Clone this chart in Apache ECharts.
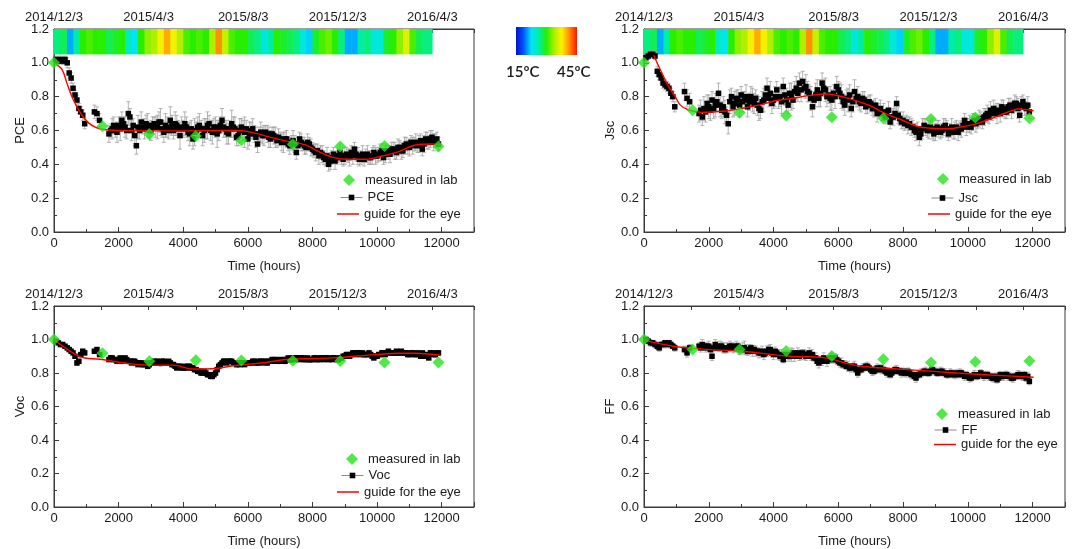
<!DOCTYPE html>
<html>
<head>
<meta charset="utf-8">
<title>Outdoor stability of PCE, Jsc, Voc and FF</title>
<script src="https://cdn.jsdelivr.net/npm/echarts@6/dist/echarts.min.js"></script>
<style>
  html, body { margin: 0; padding: 0; background: #ffffff; }
  #chart { width: 1072px; height: 549px; }
</style>
</head>
<body>
<div id="chart"></div>
<script>
// ---- measurement times (hours since 2014/12/3) ----
const hours = [
  60, 130, 200, 270, 340, 410, 470, 530, 590, 650, 710, 770, 830, 890, 950,
  1250, 1330, 1410,
  1700, 1750, 1800, 1850, 1900, 1950, 2000, 2050, 2100, 2150,
  2200, 2250, 2300, 2350, 2400, 2450, 2500, 2550, 2600, 2650,
  2700, 2750, 2800, 2850, 2900, 2950, 3000, 3050, 3100, 3150,
  3200, 3250, 3300, 3350, 3400, 3450, 3500, 3550, 3600, 3650,
  3700, 3750, 3800, 3850, 3900, 3950, 4000, 4050, 4100, 4150,
  4200, 4250, 4300, 4350, 4400, 4450, 4500, 4550, 4600, 4650,
  4700, 4750, 4800, 4850, 4900, 4950, 5000, 5050, 5100, 5150,
  5200, 5250, 5300, 5350, 5400, 5450, 5500, 5550, 5600, 5650,
  5700, 5750, 5800, 5850, 5900, 5950, 6000, 6050, 6100, 6150,
  6200, 6250, 6300, 6350, 6400, 6450, 6500, 6550, 6600, 6650,
  6700, 6750, 6800, 6850, 6900, 6950, 7000, 7050, 7100, 7150,
  7200, 7250, 7300, 7350, 7400, 7450, 7500, 7550, 7600, 7650,
  7700, 7750, 7800, 7850, 7900, 7950, 8000, 8050, 8100, 8150,
  8200, 8250, 8300, 8350, 8400, 8450, 8500, 8550, 8600, 8650,
  8700, 8750, 8800, 8850, 8900, 8950, 9000, 9050, 9100, 9150,
  9200, 9250, 9300, 9350, 9400, 9450, 9500, 9550, 9600, 9650,
  9700, 9750, 9800, 9850, 9900, 9950, 10000, 10050, 10100, 10150,
  10200, 10250, 10300, 10350, 10400, 10450, 10500, 10550, 10600, 10650,
  10700, 10750, 10800, 10850, 10900, 10950, 11000, 11050, 11100, 11150,
  11200, 11250, 11300, 11350, 11400, 11450, 11500, 11550, 11600, 11650,
  11700, 11750, 11800, 11850, 11900
];

// ---- normalised outdoor values ----
const pce = [
  1.02, 1.01, 1.02, 1.01, 1.02, 1.00, 0.94, 0.91, 0.85, 0.81, 0.78, 0.73, 0.71, 0.69, 0.64,
  0.71, 0.70, 0.66,
  0.58, 0.60, 0.61, 0.63, 0.60, 0.59, 0.63, 0.61, 0.66, 0.64,
  0.62, 0.60, 0.70, 0.68, 0.60, 0.63, 0.57, 0.51, 0.62, 0.60,
  0.65, 0.62, 0.61, 0.64, 0.63, 0.60, 0.60, 0.63, 0.64, 0.62,
  0.62, 0.65, 0.65, 0.61, 0.59, 0.63, 0.62, 0.60, 0.66, 0.63,
  0.60, 0.64, 0.63, 0.61, 0.57, 0.62, 0.61, 0.64, 0.62, 0.59,
  0.58, 0.61, 0.55, 0.59, 0.60, 0.62, 0.63, 0.61, 0.57, 0.60,
  0.61, 0.63, 0.64, 0.60, 0.59, 0.62, 0.62, 0.58, 0.60, 0.63,
  0.66, 0.62, 0.61, 0.59, 0.58, 0.61, 0.64, 0.62, 0.61, 0.56,
  0.57, 0.60, 0.62, 0.60, 0.59, 0.61, 0.55, 0.58, 0.60, 0.61,
  0.58, 0.56, 0.52, 0.58, 0.59, 0.57, 0.57, 0.59, 0.58, 0.56,
  0.55, 0.58, 0.57, 0.56, 0.54, 0.56, 0.55, 0.53, 0.53, 0.55,
  0.55, 0.52, 0.51, 0.53, 0.54, 0.52, 0.47, 0.51, 0.55, 0.53,
  0.52, 0.51, 0.50, 0.53, 0.52, 0.50, 0.49, 0.48, 0.47, 0.48,
  0.45, 0.47, 0.46, 0.44, 0.43, 0.45, 0.40, 0.42, 0.44, 0.46,
  0.42, 0.44, 0.45, 0.47, 0.44, 0.43, 0.45, 0.46, 0.45, 0.44,
  0.47, 0.45, 0.49, 0.46, 0.45, 0.43, 0.44, 0.46, 0.43, 0.45,
  0.46, 0.44, 0.44, 0.45, 0.47, 0.45, 0.45, 0.46, 0.47, 0.48,
  0.44, 0.46, 0.48, 0.47, 0.46, 0.49, 0.49, 0.48, 0.47, 0.50,
  0.50, 0.48, 0.48, 0.51, 0.52, 0.50, 0.50, 0.53, 0.51, 0.52,
  0.53, 0.51, 0.52, 0.54, 0.49, 0.52, 0.55, 0.54, 0.53, 0.55,
  0.56, 0.53, 0.54, 0.55, 0.52
];
const pceErr = [
  0.02, 0.02, 0.02, 0.02, 0.02, 0.03, 0.03, 0.03, 0.03, 0.03, 0.03, 0.03, 0.03, 0.03, 0.03,
  0.04, 0.04, 0.04,
  0.05, 0.04, 0.06, 0.05, 0.04, 0.06, 0.05, 0.07, 0.05, 0.04,
  0.06, 0.05, 0.07, 0.05, 0.06, 0.04, 0.06, 0.05, 0.07, 0.05,
  0.06, 0.04, 0.06, 0.05, 0.07, 0.05, 0.06, 0.05, 0.04, 0.06,
  0.07, 0.06, 0.08, 0.05, 0.06, 0.07, 0.06, 0.05, 0.08, 0.06,
  0.05, 0.07, 0.06, 0.05, 0.08, 0.06, 0.05, 0.07, 0.06, 0.05,
  0.07, 0.05, 0.06, 0.08, 0.05, 0.06, 0.07, 0.05, 0.06, 0.07,
  0.06, 0.08, 0.05, 0.06, 0.07, 0.05, 0.06, 0.08, 0.06, 0.05,
  0.07, 0.06, 0.05, 0.07, 0.06, 0.05, 0.08, 0.06, 0.07, 0.05,
  0.06, 0.07, 0.05, 0.06, 0.09, 0.05, 0.06, 0.07, 0.05, 0.06,
  0.05, 0.06, 0.05, 0.04, 0.06, 0.05, 0.06, 0.04, 0.05, 0.06,
  0.05, 0.04, 0.05, 0.06, 0.04, 0.05, 0.04, 0.05, 0.06, 0.04,
  0.05, 0.04, 0.05, 0.04, 0.06, 0.05, 0.04, 0.05, 0.04, 0.05,
  0.04, 0.05, 0.04, 0.05, 0.04, 0.05, 0.04, 0.04, 0.05, 0.04,
  0.05, 0.04, 0.05, 0.04, 0.04, 0.05, 0.04, 0.05, 0.04, 0.04,
  0.05, 0.04, 0.04, 0.05, 0.04, 0.04, 0.05, 0.04, 0.04, 0.05,
  0.04, 0.05, 0.04, 0.04, 0.05, 0.04, 0.04, 0.05, 0.04, 0.04,
  0.05, 0.04, 0.04, 0.05, 0.04, 0.05, 0.04, 0.04, 0.05, 0.04,
  0.04, 0.05, 0.04, 0.04, 0.05, 0.04, 0.04, 0.05, 0.04, 0.05,
  0.04, 0.05, 0.04, 0.05, 0.04, 0.04, 0.05, 0.04, 0.05, 0.04,
  0.05, 0.04, 0.05, 0.04, 0.04, 0.05, 0.04, 0.05, 0.04, 0.05,
  0.04, 0.05, 0.04, 0.04, 0.04
];

const jsc = [
  1.03, 1.04, 1.05, 1.05, 1.04, 0.95, 0.93, 0.91, 0.88, 0.87, 0.86, 0.85, 0.82, 0.80, 0.74,
  0.83, 0.79, 0.77,
  0.70, 0.72, 0.68, 0.73, 0.71, 0.76, 0.74, 0.72, 0.78, 0.73,
  0.75, 0.77, 0.82, 0.75, 0.72, 0.74, 0.71, 0.69, 0.64, 0.77,
  0.80, 0.74, 0.76, 0.79, 0.78, 0.75, 0.81, 0.77, 0.78, 0.80,
  0.74, 0.77, 0.80, 0.78, 0.76, 0.79, 0.75, 0.73, 0.72, 0.77,
  0.78, 0.81, 0.85, 0.79, 0.82, 0.76, 0.78, 0.80, 0.84, 0.79,
  0.80, 0.77, 0.86, 0.81, 0.78, 0.75, 0.82, 0.80, 0.78, 0.83,
  0.85, 0.82, 0.88, 0.84, 0.89, 0.85, 0.86, 0.83, 0.82, 0.79,
  0.74, 0.78, 0.81, 0.84, 0.79, 0.82, 0.88, 0.85, 0.84, 0.80,
  0.81, 0.79, 0.78, 0.82, 0.80, 0.86, 0.84, 0.82, 0.80, 0.77,
  0.75, 0.79, 0.78, 0.81, 0.73, 0.77, 0.83, 0.79, 0.80, 0.77,
  0.76, 0.79, 0.78, 0.74, 0.75, 0.77, 0.76, 0.73, 0.73, 0.75,
  0.70, 0.72, 0.73, 0.70, 0.71, 0.68, 0.69, 0.72, 0.65, 0.68,
  0.68, 0.70, 0.76, 0.69, 0.67, 0.65, 0.66, 0.64, 0.65, 0.63,
  0.64, 0.62, 0.62, 0.60, 0.59, 0.61, 0.56, 0.58, 0.61, 0.63,
  0.62, 0.60, 0.60, 0.62, 0.61, 0.58, 0.59, 0.62, 0.61, 0.59,
  0.60, 0.62, 0.63, 0.61, 0.58, 0.60, 0.62, 0.59, 0.60, 0.62,
  0.59, 0.61, 0.61, 0.63, 0.66, 0.62, 0.63, 0.64, 0.62, 0.65,
  0.66, 0.64, 0.65, 0.67, 0.67, 0.65, 0.68, 0.69, 0.70, 0.68,
  0.72, 0.70, 0.73, 0.71, 0.70, 0.72, 0.70, 0.74, 0.73, 0.71,
  0.71, 0.74, 0.75, 0.72, 0.74, 0.76, 0.76, 0.73, 0.69, 0.75,
  0.77, 0.74, 0.73, 0.75, 0.71
];
const jscErr = [
  0.02, 0.02, 0.02, 0.02, 0.02, 0.03, 0.03, 0.03, 0.03, 0.03, 0.03, 0.03, 0.03, 0.03, 0.03,
  0.05, 0.05, 0.05,
  0.05, 0.06, 0.05, 0.07, 0.06, 0.05, 0.07, 0.06, 0.05, 0.06,
  0.07, 0.05, 0.06, 0.07, 0.05, 0.06, 0.07, 0.05, 0.06, 0.07,
  0.05, 0.06, 0.07, 0.05, 0.06, 0.07, 0.05, 0.06, 0.05, 0.07,
  0.06, 0.05, 0.06, 0.07, 0.06, 0.05, 0.06, 0.07, 0.05, 0.06,
  0.07, 0.05, 0.06, 0.05, 0.07, 0.06, 0.05, 0.06, 0.05, 0.06,
  0.06, 0.07, 0.05, 0.06, 0.07, 0.05, 0.06, 0.08, 0.05, 0.06,
  0.07, 0.05, 0.06, 0.07, 0.06, 0.05, 0.07, 0.06, 0.05, 0.07,
  0.06, 0.05, 0.07, 0.06, 0.05, 0.08, 0.06, 0.05, 0.07, 0.06,
  0.05, 0.07, 0.06, 0.05, 0.07, 0.06, 0.05, 0.06, 0.07, 0.05,
  0.06, 0.05, 0.07, 0.06, 0.05, 0.06, 0.07, 0.05, 0.06, 0.05,
  0.05, 0.04, 0.05, 0.04, 0.05, 0.04, 0.05, 0.04, 0.05, 0.04,
  0.05, 0.04, 0.05, 0.04, 0.05, 0.04, 0.04, 0.05, 0.04, 0.04,
  0.05, 0.04, 0.04, 0.05, 0.04, 0.04, 0.05, 0.04, 0.04, 0.05,
  0.04, 0.05, 0.04, 0.04, 0.05, 0.04, 0.05, 0.04, 0.06, 0.04,
  0.05, 0.04, 0.05, 0.04, 0.06, 0.04, 0.05, 0.04, 0.05, 0.04,
  0.04, 0.05, 0.04, 0.05, 0.04, 0.04, 0.05, 0.04, 0.05, 0.04,
  0.05, 0.04, 0.05, 0.04, 0.04, 0.05, 0.04, 0.05, 0.04, 0.05,
  0.04, 0.05, 0.04, 0.05, 0.04, 0.04, 0.05, 0.04, 0.05, 0.04,
  0.05, 0.04, 0.05, 0.04, 0.06, 0.04, 0.05, 0.04, 0.05, 0.04,
  0.04, 0.05, 0.04, 0.05, 0.04, 0.05, 0.04, 0.06, 0.04, 0.05,
  0.04, 0.05, 0.04, 0.05, 0.04
];

const voc = [
  0.99, 0.98, 0.97, 0.97, 0.96, 0.95, 0.94, 0.93, 0.92, 0.90, 0.86, 0.87, 0.91, 0.93, 0.92,
  0.93, 0.94, 0.91,
  0.88, 0.89, 0.89, 0.88, 0.88, 0.87, 0.88, 0.89, 0.87, 0.88,
  0.89, 0.88, 0.87, 0.87, 0.86, 0.87, 0.87, 0.86, 0.85, 0.86,
  0.86, 0.85, 0.85, 0.86, 0.84, 0.85, 0.86, 0.86, 0.87, 0.86,
  0.87, 0.86, 0.86, 0.87, 0.87, 0.86, 0.86, 0.87, 0.86, 0.85,
  0.85, 0.84, 0.83, 0.84, 0.84, 0.83, 0.83, 0.84, 0.83, 0.84,
  0.84, 0.83, 0.83, 0.82, 0.82, 0.81, 0.81, 0.80, 0.80, 0.81,
  0.80, 0.79, 0.79, 0.78, 0.78, 0.79, 0.80, 0.82, 0.84, 0.85,
  0.86, 0.87, 0.87, 0.86, 0.87, 0.87, 0.87, 0.86, 0.86, 0.85,
  0.86, 0.85, 0.86, 0.86, 0.85, 0.86, 0.86, 0.86, 0.86, 0.87,
  0.87, 0.86, 0.86, 0.87, 0.87, 0.86, 0.87, 0.87, 0.86, 0.87,
  0.87, 0.88, 0.87, 0.88, 0.88, 0.87, 0.87, 0.88, 0.88, 0.87,
  0.88, 0.89, 0.88, 0.88, 0.89, 0.88, 0.89, 0.89, 0.88, 0.89,
  0.89, 0.88, 0.88, 0.89, 0.88, 0.88, 0.88, 0.89, 0.89, 0.88,
  0.88, 0.89, 0.89, 0.88, 0.89, 0.89, 0.88, 0.89, 0.88, 0.89,
  0.89, 0.88, 0.88, 0.89, 0.89, 0.90, 0.90, 0.91, 0.91, 0.90,
  0.91, 0.92, 0.92, 0.91, 0.92, 0.92, 0.91, 0.92, 0.91, 0.91,
  0.91, 0.92, 0.91, 0.90, 0.89, 0.90, 0.90, 0.91, 0.91, 0.92,
  0.92, 0.91, 0.92, 0.93, 0.92, 0.92, 0.92, 0.92, 0.93, 0.92,
  0.92, 0.93, 0.92, 0.92, 0.92, 0.91, 0.91, 0.92, 0.92, 0.91,
  0.91, 0.92, 0.91, 0.90, 0.92, 0.91, 0.90, 0.91, 0.89, 0.92,
  0.92, 0.91, 0.91, 0.92, 0.92
];
const vocErr = [
  0.01, 0.01, 0.01, 0.01, 0.01, 0.01, 0.01, 0.01, 0.01, 0.01, 0.015, 0.01, 0.01, 0.01, 0.01,
  0.01, 0.01, 0.01,
  0.01, 0.015, 0.01, 0.01, 0.015, 0.01, 0.01, 0.01, 0.015, 0.01,
  0.01, 0.01, 0.015, 0.01, 0.01, 0.015, 0.01, 0.01, 0.01, 0.015,
  0.01, 0.015, 0.01, 0.01, 0.01, 0.015, 0.01, 0.01, 0.015, 0.01,
  0.015, 0.01, 0.02, 0.015, 0.01, 0.01, 0.015, 0.01, 0.01, 0.01,
  0.015, 0.01, 0.01, 0.01, 0.015, 0.01, 0.01, 0.01, 0.015, 0.01,
  0.01, 0.01, 0.015, 0.01, 0.01, 0.01, 0.015, 0.01, 0.01, 0.01,
  0.015, 0.01, 0.01, 0.01, 0.015, 0.01, 0.01, 0.01, 0.015, 0.01,
  0.01, 0.015, 0.01, 0.01, 0.01, 0.015, 0.01, 0.01, 0.01, 0.015,
  0.01, 0.01, 0.015, 0.01, 0.01, 0.01, 0.015, 0.01, 0.01, 0.01,
  0.015, 0.01, 0.01, 0.01, 0.015, 0.01, 0.01, 0.01, 0.015, 0.01,
  0.01, 0.015, 0.01, 0.01, 0.01, 0.015, 0.01, 0.01, 0.01, 0.015,
  0.01, 0.01, 0.015, 0.01, 0.01, 0.01, 0.015, 0.01, 0.01, 0.01,
  0.015, 0.01, 0.01, 0.01, 0.015, 0.01, 0.01, 0.01, 0.015, 0.01,
  0.01, 0.015, 0.01, 0.01, 0.01, 0.015, 0.01, 0.01, 0.01, 0.015,
  0.01, 0.01, 0.015, 0.01, 0.01, 0.01, 0.015, 0.01, 0.01, 0.01,
  0.015, 0.01, 0.01, 0.01, 0.015, 0.01, 0.01, 0.01, 0.015, 0.01,
  0.01, 0.015, 0.01, 0.01, 0.01, 0.015, 0.01, 0.01, 0.01, 0.015,
  0.01, 0.01, 0.015, 0.01, 0.01, 0.01, 0.015, 0.01, 0.01, 0.01,
  0.015, 0.01, 0.01, 0.01, 0.015, 0.01, 0.01, 0.01, 0.015, 0.01,
  0.01, 0.015, 0.01, 0.01, 0.01, 0.015, 0.01, 0.01, 0.01, 0.015,
  0.01, 0.01, 0.015, 0.01, 0.01
];

const ff = [
  1.00, 0.99, 0.98, 0.98, 0.97, 0.96, 0.95, 0.97, 0.97, 0.98, 0.97, 0.98, 0.97, 0.96, 0.95,
  0.94, 0.92, 0.95,
  0.96, 0.95, 0.97, 0.96, 0.95, 0.96, 0.96, 0.94, 0.90, 0.95,
  0.97, 0.96, 0.95, 0.96, 0.96, 0.95, 0.94, 0.95, 0.95, 0.96,
  0.96, 0.95, 0.95, 0.96, 0.96, 0.94, 0.94, 0.95, 0.95, 0.94,
  0.93, 0.94, 0.95, 0.93, 0.94, 0.93, 0.93, 0.92, 0.92, 0.93,
  0.91, 0.92, 0.93, 0.94, 0.94, 0.92, 0.91, 0.93, 0.92, 0.91,
  0.90, 0.91, 0.88, 0.90, 0.91, 0.90, 0.90, 0.91, 0.92, 0.90,
  0.91, 0.92, 0.90, 0.91, 0.92, 0.91, 0.90, 0.91, 0.92, 0.90,
  0.91, 0.89, 0.89, 0.87, 0.86, 0.88, 0.87, 0.89, 0.88, 0.87,
  0.88, 0.89, 0.89, 0.88, 0.89, 0.88, 0.87, 0.86, 0.86, 0.85,
  0.85, 0.84, 0.84, 0.83, 0.83, 0.84, 0.84, 0.82, 0.80, 0.82,
  0.82, 0.83, 0.83, 0.84, 0.84, 0.83, 0.82, 0.81, 0.81, 0.82,
  0.83, 0.82, 0.83, 0.82, 0.82, 0.81, 0.80, 0.81, 0.79, 0.80,
  0.81, 0.82, 0.82, 0.81, 0.81, 0.80, 0.81, 0.80, 0.80, 0.81,
  0.80, 0.79, 0.79, 0.78, 0.77, 0.79, 0.79, 0.80, 0.80, 0.81,
  0.81, 0.80, 0.80, 0.81, 0.82, 0.81, 0.81, 0.80, 0.80, 0.81,
  0.81, 0.80, 0.80, 0.79, 0.79, 0.80, 0.80, 0.79, 0.79, 0.80,
  0.79, 0.80, 0.80, 0.79, 0.78, 0.79, 0.78, 0.77, 0.77, 0.78,
  0.79, 0.78, 0.78, 0.79, 0.80, 0.79, 0.78, 0.79, 0.79, 0.78,
  0.78, 0.77, 0.77, 0.78, 0.76, 0.77, 0.79, 0.78, 0.78, 0.79,
  0.79, 0.78, 0.78, 0.77, 0.77, 0.78, 0.78, 0.79, 0.79, 0.78,
  0.78, 0.79, 0.77, 0.78, 0.75
];
const ffErr = [
  0.015, 0.015, 0.02, 0.015, 0.02, 0.02, 0.02, 0.015, 0.02, 0.015, 0.02, 0.015, 0.02, 0.015, 0.02,
  0.02, 0.025, 0.02,
  0.02, 0.025, 0.03, 0.02, 0.025, 0.02, 0.03, 0.02, 0.025, 0.02,
  0.03, 0.025, 0.02, 0.03, 0.025, 0.03, 0.02, 0.03, 0.025, 0.03,
  0.02, 0.03, 0.025, 0.03, 0.02, 0.03, 0.025, 0.03, 0.04, 0.03,
  0.025, 0.03, 0.02, 0.03, 0.025, 0.03, 0.02, 0.03, 0.025, 0.03,
  0.03, 0.02, 0.03, 0.025, 0.03, 0.02, 0.03, 0.025, 0.02, 0.03,
  0.025, 0.03, 0.02, 0.03, 0.025, 0.03, 0.02, 0.04, 0.025, 0.03,
  0.02, 0.03, 0.025, 0.03, 0.02, 0.03, 0.025, 0.02, 0.03, 0.025,
  0.03, 0.02, 0.03, 0.025, 0.03, 0.02, 0.025, 0.03, 0.02, 0.03,
  0.02, 0.025, 0.03, 0.02, 0.025, 0.03, 0.02, 0.025, 0.03, 0.02,
  0.025, 0.02, 0.03, 0.02, 0.025, 0.02, 0.03, 0.02, 0.025, 0.02,
  0.02, 0.025, 0.02, 0.02, 0.025, 0.02, 0.02, 0.025, 0.02, 0.02,
  0.025, 0.02, 0.02, 0.025, 0.02, 0.02, 0.025, 0.02, 0.02, 0.025,
  0.02, 0.02, 0.025, 0.02, 0.02, 0.025, 0.02, 0.02, 0.025, 0.02,
  0.02, 0.025, 0.02, 0.02, 0.025, 0.02, 0.02, 0.025, 0.02, 0.02,
  0.025, 0.02, 0.02, 0.025, 0.02, 0.02, 0.025, 0.02, 0.02, 0.025,
  0.02, 0.02, 0.025, 0.02, 0.02, 0.025, 0.02, 0.02, 0.025, 0.02,
  0.02, 0.025, 0.02, 0.02, 0.025, 0.02, 0.02, 0.025, 0.02, 0.02,
  0.025, 0.02, 0.02, 0.025, 0.02, 0.02, 0.025, 0.02, 0.02, 0.025,
  0.02, 0.02, 0.025, 0.02, 0.02, 0.025, 0.02, 0.02, 0.025, 0.02,
  0.02, 0.025, 0.02, 0.02, 0.025, 0.02, 0.02, 0.025, 0.02, 0.02,
  0.025, 0.02, 0.02, 0.025, 0.02
];

// ---- lab (indoor) check-ups ----
const labHours = [0, 1500, 2950, 4390, 5800, 7390, 8860, 10230, 11900];
const labPce = [1.0, 0.625, 0.58, 0.567, 0.542, 0.519, 0.506, 0.508, 0.506];
const labJsc = [1.0, 0.72, 0.705, 0.688, 0.678, 0.672, 0.668, 0.677, 0.672];
const labVoc = [1.0, 0.918, 0.87, 0.876, 0.875, 0.873, 0.871, 0.863, 0.863];
const labFf  = [1.0, 0.941, 0.941, 0.931, 0.902, 0.882, 0.863, 0.867, 0.871];

// ---- guide-for-the-eye curves: [hours, value] knots ----
const pceGuide = [[0, 1.0], [250, 0.96], [400, 0.88], [555, 0.80], [710, 0.74], [864, 0.69],
  [1070, 0.645], [1275, 0.62], [1500, 0.607], [2000, 0.600], [3000, 0.598], [4000, 0.598],
  [5000, 0.600], [5700, 0.600], [6250, 0.583], [6560, 0.567], [7280, 0.534], [7800, 0.514],
  [8200, 0.475], [8620, 0.441], [9130, 0.430], [9650, 0.430], [10160, 0.449], [10670, 0.475],
  [11190, 0.514], [11700, 0.520], [12000, 0.514]];
const jscGuide = [[300, 1.045], [555, 0.938], [760, 0.859], [966, 0.80], [1122, 0.75],
  [1380, 0.721], [1790, 0.707], [2510, 0.715], [3025, 0.731], [3540, 0.75], [4055, 0.776],
  [4570, 0.79], [5085, 0.806], [5600, 0.816], [5900, 0.81], [6320, 0.79], [6940, 0.75],
  [7450, 0.70], [7960, 0.662], [8480, 0.622], [8890, 0.613], [9400, 0.61], [9820, 0.622],
  [10230, 0.638], [10740, 0.672], [11260, 0.711], [11570, 0.727], [12030, 0.717]];
const vocGuide = [[0, 1.0], [800, 0.898], [1420, 0.882], [2450, 0.853], [3000, 0.847],
  [3680, 0.847], [4300, 0.824], [5020, 0.827], [5535, 0.843], [6560, 0.863], [7280, 0.882],
  [8620, 0.890], [9440, 0.902], [10670, 0.918], [11190, 0.918], [11960, 0.906]];
const ffGuide = [[0, 0.996], [900, 0.96], [1930, 0.941], [2960, 0.931], [4510, 0.90],
  [5540, 0.892], [6360, 0.853], [6780, 0.839], [7600, 0.827], [8630, 0.814], [9660, 0.80],
  [10690, 0.788], [12030, 0.775]];

// ---- calendar labels on the top axis ----
const dateLabels = ['2014/12/3', '2015/4/3', '2015/8/3', '2015/12/3', '2016/4/3'];

// ---- ambient temperature strip (°C), one value per 200 h bin ----
const stripTemps = [
  27, 28, 21, 26, 30, 31, 30, 30, 28, 29, 30, 25, 23, 30, 33, 34, 37, 40, 37, 34,
  31, 30, 31, 30, 34, 41, 35, 31, 30, 30, 28, 27, 24, 26, 30, 29, 28, 27, 24, 22,
  29, 31, 32, 30, 27, 21, 21, 26, 27, 24, 24, 29, 30, 33, 36, 31, 28, 27, 27
];
const tempRange = [15, 45];
const tempLabels = ['15ºC', '45ºC'];

// ---- styling / layout ----
const BIN_HOURS = 200;
const STRIP_END = 11700;
const TWO_MONTHS_H = 1464;
const tempColors = ['#0010c8', '#0058ff', '#00e4ff', '#00eea0', '#28ee00',
                    '#a8f000', '#fff000', '#ff8a00', '#ff1400'];
const FONT = '"Liberation Sans", Arial, sans-serif';
const INK = '#1a1a1a';
const AXIS = '#3a3a3a';
const GREEN = '#26e41c';
const DIAMOND_ICON = 'path://M0,6 L6,0 L12,6 L6,12 Z';

const stripData = stripTemps.map((t, i) =>
  [i * BIN_HOURS, Math.min((i + 1) * BIN_HOURS, STRIP_END), t]);

const panels = [
  { name: 'PCE', vals: pce, err: pceErr, lab: labPce, guide: pceGuide, strip: true,
    grid: { left: 54, top: 29, width: 420, height: 203 },
    leg: { lab: [365, 180], data: [367, 197.5], guide: [364, 214] } },
  { name: 'Jsc', vals: jsc, err: jscErr, lab: labJsc, guide: jscGuide, strip: true,
    grid: { left: 644, top: 29, width: 421, height: 203 },
    leg: { lab: [959, 179], data: [958, 198], guide: [955, 214] } },
  { name: 'Voc', vals: voc, err: vocErr, lab: labVoc, guide: vocGuide, strip: false,
    grid: { left: 54, top: 306, width: 420, height: 204 },
    leg: { lab: [368, 459], data: [368, 475.5], guide: [364, 492] } },
  { name: 'FF', vals: ff, err: ffErr, lab: labFf, guide: ffGuide, strip: false,
    grid: { left: 644, top: 306, width: 421, height: 204 },
    leg: { lab: [958, 414], data: [961, 430], guide: [961, 444.5] } }
];

function renderErrorBar(params, api) {
  const x = api.value(0), v = api.value(1), e = api.value(2);
  const hi = api.coord([x, v + e]);
  const lo = api.coord([x, v - e]);
  const cap = 2;
  const st = { stroke: '#a0a0a0', lineWidth: 0.8 };
  return {
    type: 'group',
    children: [
      { type: 'line', shape: { x1: hi[0], y1: hi[1], x2: lo[0], y2: lo[1] }, style: st },
      { type: 'line', shape: { x1: hi[0] - cap, y1: hi[1], x2: hi[0] + cap, y2: hi[1] }, style: st },
      { type: 'line', shape: { x1: lo[0] - cap, y1: lo[1], x2: lo[0] + cap, y2: lo[1] }, style: st }
    ]
  };
}

function renderStrip(params, api) {
  const p0 = api.coord([api.value(0), 1.2]);
  const p1 = api.coord([api.value(1), 1.05]);
  return {
    type: 'rect',
    shape: { x: p0[0], y: p0[1], width: p1[0] - p0[0] + 0.6, height: p1[1] - p0[1] },
    style: { fill: api.visual('color') }
  };
}

const grids = [], xAxes = [], yAxes = [], series = [], legends = [];
const stripSeriesIdx = [];

const legendText = { fontSize: 13, color: INK, fontFamily: FONT };
const legendBase = { padding: 0, itemGap: 0, selectedMode: false, itemWidth: 22 };

panels.forEach((p, g) => {
  grids.push(Object.assign({ show: true, borderColor: AXIS, borderWidth: 1,
    backgroundColor: 'transparent' }, p.grid));

  // bottom time axis
  xAxes.push({
    type: 'value', gridIndex: g, position: 'bottom', min: 0, max: 13000, interval: 2000,
    name: 'Time (hours)', nameLocation: 'middle', nameGap: 28,
    nameTextStyle: { fontSize: 13, color: INK, fontFamily: FONT },
    axisLine: { show: true, lineStyle: { color: AXIS, width: 1 } },
    axisTick: { show: true, inside: true, length: 5, lineStyle: { color: AXIS } },
    minorTick: { show: true, splitNumber: 2, length: 3, lineStyle: { color: AXIS } },
    splitLine: { show: false }, minorSplitLine: { show: false },
    axisLabel: { fontSize: 13, color: INK, fontFamily: FONT, margin: 5,
      formatter: v => (v <= 12000 ? String(v) : '') }
  });
  // top calendar axis
  xAxes.push({
    type: 'value', gridIndex: g, position: 'top', min: 0, max: 13000, interval: TWO_MONTHS_H,
    axisLine: { show: true, lineStyle: { color: AXIS, width: 1 } },
    axisTick: { show: true, inside: true, length: 4, lineStyle: { color: AXIS } },
    splitLine: { show: false },
    axisLabel: { fontSize: 13, color: INK, fontFamily: FONT, margin: 5,
      formatter: v => {
        const k = Math.round(v / TWO_MONTHS_H);
        return (Math.abs(v - k * TWO_MONTHS_H) < 1 && k % 2 === 0 && k / 2 < dateLabels.length)
          ? dateLabels[k / 2] : '';
      } }
  });
  yAxes.push({
    type: 'value', gridIndex: g, min: 0, max: 1.2, interval: 0.2,
    name: p.name, nameLocation: 'middle', nameGap: 27,
    nameTextStyle: { fontSize: 13, color: INK, fontFamily: FONT },
    axisLine: { show: true, lineStyle: { color: AXIS, width: 1 } },
    axisTick: { show: true, inside: true, length: 5, lineStyle: { color: AXIS } },
    minorTick: { show: true, splitNumber: 2, length: 3, lineStyle: { color: AXIS } },
    splitLine: { show: false }, minorSplitLine: { show: false },
    axisLabel: { fontSize: 13, color: INK, fontFamily: FONT, margin: 5,
      formatter: v => v.toFixed(1) }
  });

  const xi = 2 * g, yi = g;

  if (p.strip) {
    stripSeriesIdx.push(series.length);
    series.push({
      type: 'custom', name: 'temperature', xAxisIndex: xi, yAxisIndex: yi,
      renderItem: renderStrip, encode: { x: [0, 1] }, data: stripData,
      silent: true, z: 1
    });
  }
  series.push({
    type: 'custom', name: p.name + ' error', xAxisIndex: xi, yAxisIndex: yi,
    renderItem: renderErrorBar, encode: { x: 0, y: 1 },
    data: hours.map((h, i) => [h, p.vals[i], p.err[i]]), silent: true, z: 2
  });
  series.push({
    type: 'line', name: p.name, xAxisIndex: xi, yAxisIndex: yi,
    data: hours.map((h, i) => [h, p.vals[i]]),
    symbol: 'rect', symbolSize: 5.5, showSymbol: true,
    itemStyle: { color: '#000000' },
    lineStyle: { width: 0, opacity: 0 }, silent: true, z: 3, animation: false
  });
  series.push({
    type: 'line', name: 'guide for the eye', xAxisIndex: xi, yAxisIndex: yi,
    data: p.guide, smooth: 0.35, symbol: 'none',
    itemStyle: { color: '#ff0000' },
    lineStyle: { color: '#ff0000', width: 1.4 }, silent: true, z: 4, animation: false
  });
  series.push({
    type: 'scatter', name: 'measured in lab', xAxisIndex: xi, yAxisIndex: yi,
    data: labHours.map((h, i) => [h, p.lab[i]]),
    symbol: DIAMOND_ICON, symbolSize: 12, symbolKeepAspect: true,
    itemStyle: { color: GREEN }, silent: true, z: 5, animation: false
  });

  // legend rows, each positioned from the start of its text
  const L = p.leg;
  legends.push(Object.assign({}, legendBase, {
    left: L.lab[0] - 22, top: L.lab[1] - 6.5, itemHeight: 12, symbolKeepAspect: true,
    textStyle: legendText,
    data: [{ name: 'measured in lab', icon: DIAMOND_ICON, itemStyle: { color: GREEN } }]
  }));
  legends.push(Object.assign({}, legendBase, {
    left: L.data[0] - 27, top: L.data[1] - 6.5, itemHeight: 7,
    textStyle: legendText,
    lineStyle: { color: '#8c8c8c', width: 1, opacity: 1, type: 'solid' },
    data: [{ name: p.name }]
  }));
  legends.push(Object.assign({}, legendBase, {
    left: L.guide[0] - 27, top: L.guide[1] - 6.5, itemHeight: 1.5,
    symbolKeepAspect: false, textStyle: legendText,
    data: [{ name: 'guide for the eye', icon: 'rect', itemStyle: { color: '#ff0000', borderWidth: 0 } }]
  }));
});

// temperature colour key
const keyStops = tempColors.map((c, i) => ({ offset: i / (tempColors.length - 1), color: c }));
const graphic = [
  { type: 'rect', left: 516, top: 27, shape: { width: 61, height: 28 },
    style: { fill: new echarts.graphic.LinearGradient(0, 0, 1, 0, keyStops) }, silent: true },
  { type: 'text', left: 506, top: 65,
    style: { text: tempLabels[0], font: '600 15px Lato, "Open Sans", sans-serif', fill: INK } },
  { type: 'text', left: 557, top: 65,
    style: { text: tempLabels[1], font: '600 15px Lato, "Open Sans", sans-serif', fill: INK } }
];

const chart = echarts.init(document.getElementById('chart'), null, { renderer: 'canvas' });
chart.setOption({
  backgroundColor: '#ffffff',
  animation: false,
  grid: grids,
  xAxis: xAxes,
  yAxis: yAxes,
  legend: legends,
  visualMap: [{
    type: 'continuous', show: false, min: tempRange[0], max: tempRange[1], dimension: 2,
    seriesIndex: stripSeriesIdx, inRange: { color: tempColors }
  }],
  graphic: graphic,
  series: series
});
</script>
</body>
</html>
